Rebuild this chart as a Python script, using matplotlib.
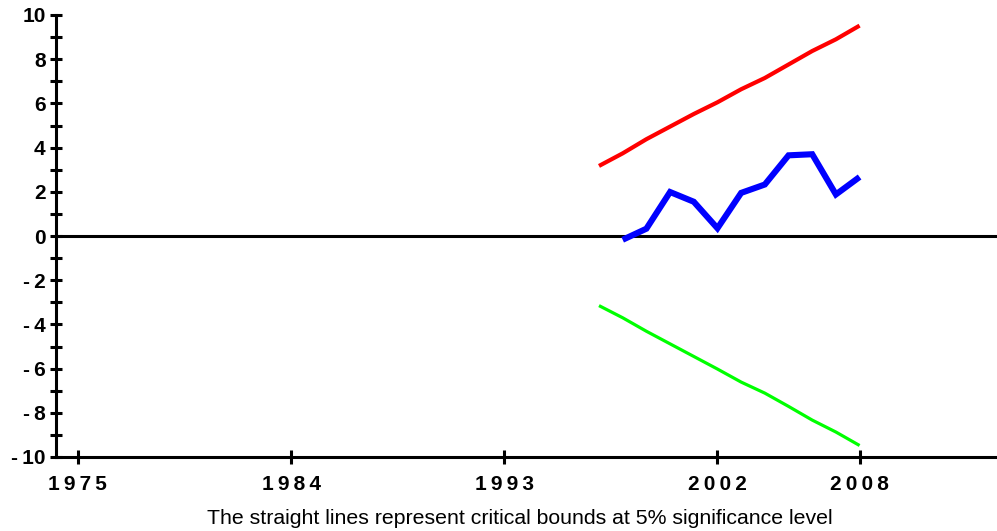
import matplotlib
matplotlib.use("Agg")
import matplotlib.pyplot as plt
from matplotlib.ticker import MultipleLocator

# CUSUM statistic and 5% critical bounds
years_bounds = [1997, 1998, 1999, 2000, 2001, 2002, 2003, 2004, 2005, 2006, 2007, 2008]
upper_bound = [3.17, 3.74, 4.38, 4.95, 5.52, 6.05, 6.64, 7.15, 7.76, 8.37, 8.90, 9.52]
lower_bound = [-3.15, -3.70, -4.31, -4.88, -5.45, -6.02, -6.61, -7.11, -7.71, -8.33, -8.87, -9.48]

years_cusum = [1998, 1999, 2000, 2001, 2002, 2003, 2004, 2005, 2006, 2007, 2008]
cusum = [-0.17, 0.33, 1.99, 1.55, 0.35, 1.95, 2.33, 3.65, 3.70, 1.88, 2.67]

x_ticks = [1975, 1984, 1993, 2002, 2008]
y_ticks = [10, 8, 6, 4, 2, 0, -2, -4, -6, -8, -10]

W, H, DPI = 997, 531, 100
fig = plt.figure(figsize=(W / DPI, H / DPI), dpi=DPI)
left, right, top, bottom = 56, 997, 15, 457
ax = fig.add_axes([left / W, 1 - bottom / H, (right - left) / W, (bottom - top) / H])

ax.plot(years_bounds, upper_bound, color="#ff0000", lw=3.0, solid_capstyle="butt", zorder=3)
ax.plot(years_bounds, lower_bound, color="#00ff00", lw=2.3, solid_capstyle="butt", zorder=3)
ax.plot(years_cusum, cusum, color="#0000ff", lw=4.4, solid_capstyle="butt",
        solid_joinstyle="miter", zorder=4)
ax.axhline(0, color="black", lw=2.2, zorder=2)

ax.set_xlim(1974.08, 2013.8)
ax.set_ylim(-10, 10)

for s in ("top", "right"):
    ax.spines[s].set_visible(False)
for s in ("left", "bottom"):
    ax.spines[s].set_linewidth(2.2)
    ax.spines[s].set_color("black")


def ylabel(v):
    return "-\u2009" + str(abs(v)) if v < 0 else str(v)


ax.set_xticks(x_ticks)
ax.set_xticklabels(["\u2009".join(str(t)) for t in x_ticks])
ax.set_yticks(y_ticks)
ax.set_yticklabels([ylabel(t) for t in y_ticks])
ax.yaxis.set_minor_locator(MultipleLocator(1))

ax.tick_params(axis="x", which="major", direction="inout", length=10, width=2.2,
               pad=8, labelsize=15)
ax.tick_params(axis="y", which="major", direction="inout", length=9, width=2.2,
               pad=3, labelsize=15)
ax.tick_params(axis="y", which="minor", direction="inout", length=9, width=2.2)
for lab in ax.get_xticklabels() + ax.get_yticklabels():
    lab.set_fontweight("bold")
    lab.set_fontfamily(["Liberation Sans", "DejaVu Sans"])

fig.text(520 / W, 1 - 518 / H,
         "The straight lines represent critical bounds at 5% significance level",
         ha="center", va="center", fontsize=15.3, family="Liberation Sans")

fig.savefig("out.png", dpi=DPI)
